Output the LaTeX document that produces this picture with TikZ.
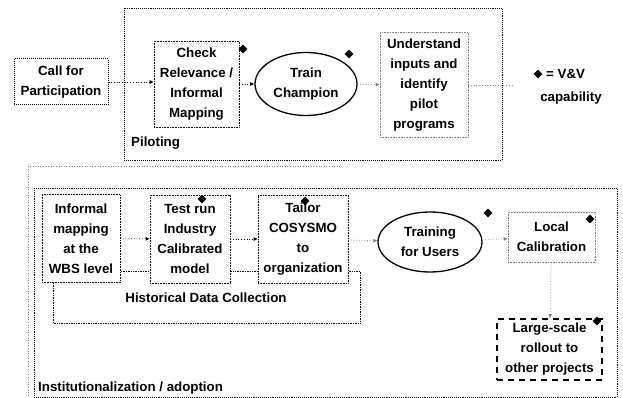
\documentclass[tikz,border=0pt]{standalone}
\usepackage{fontspec}
\setmainfont{Liberation Sans}
\usetikzlibrary{shapes.geometric,arrows.meta}
\begin{document}
\begin{tikzpicture}[x=1pt,y=-1pt,
  txt/.style={font=\fontsize{13.3}{20}\selectfont\bfseries, align=center, inner sep=0pt},
  box/.style={txt, draw, densely dotted, line width=0.6pt, fill=white},
  ell/.style={txt, ellipse, draw, line width=1.3pt, fill=white},
  arr/.style={dotted, line width=0.7pt, -{Latex[length=4pt,width=4pt]}},
  vv/.style={diamond, fill=black, inner sep=0pt, minimum size=9pt},
  frame/.style={densely dotted, line width=0.9pt}]
\useasboundingbox (0,0) rectangle (623,398);
% Piloting
\draw[frame] (124,8) rectangle (502,160);
\node[txt, anchor=west] (pil) at (131,143) {Piloting};
\node[box, line width=1pt, minimum width=94pt, minimum height=46pt] (call) at (61,82) {Call for\\Participation};
\node[box, minimum width=85pt, minimum height=86pt] (check) at (196.5,84) {Check\\Relevance /\\Informal\\Mapping};
\node[ell, minimum width=102pt, minimum height=63pt] (train) at (306,84) {Train\\Champion};
\node[box, draw=gray, minimum width=88pt, minimum height=105pt] (under) at (424,85) {Understand\\inputs and\\identify\\pilot\\programs};
\coordinate (pout) at (514,85);
\draw[arr] (call.east) -- (call.east -| check.west);
\draw[arr] (check) -- (train);
\draw[arr, gray] (train) -- (under);
\draw[dotted, gray, line width=0.7pt] (under) -- (pout);
\node[vv] (d1) at (243,49) {};
\node[vv] (d2) at (349,54) {};
% legend
\node[vv] (dleg) at (538,74) {};
\node[txt, anchor=west] (leg1) at (546,74) {= V\&V};
\node[txt] (leg2) at (571,98) {capability};
% Institutionalization
\draw[dotted, gray, line width=0.6pt] (340,166) -- (28,166) -- (28,396);
\draw[frame] (34,188) rectangle (617,397);
\node[txt, anchor=west] (inst) at (38,388) {Institutionalization / adoption};
\draw[densely dotted, line width=0.7pt] (53,271) rectangle (360,323);
\node[txt] (hist) at (206,298) {Historical Data Collection};
\node[box, minimum width=78pt, minimum height=88pt] (inf) at (81,238.5) {Informal\\mapping\\at the\\WBS level};
\node[box, minimum width=80pt, minimum height=88pt] (test) at (190,239) {Test run\\Industry\\Calibrated\\model};
\node[box, minimum width=90pt, minimum height=88pt] (tail) at (303,239) {Tailor\\COSYSMO\\to\\organization};
\node[ell, minimum width=104pt, minimum height=60pt] (trn) at (430,242) {Training\\for Users};
\node[box, draw=gray, minimum width=87pt, minimum height=50pt] (loc) at (551.5,237) {Local\\Calibration};
\node[txt, draw, dash pattern=on 6pt off 5pt, line width=1.6pt, minimum width=105pt, minimum height=61pt] (roll) at (549.5,349.5) {Large-scale\\rollout to\\other projects};
\draw[arr] (inf) -- (test);
\draw[arr] (test) -- (tail);
\draw[arr, gray] (tail) -- (trn);
\draw[arr, gray] (trn) -- (loc);
\draw[arr, gray] (loc) -- (roll);
\node[vv] (d3) at (202,199) {};
\node[vv] (d4) at (305,201) {};
\node[vv] (d5) at (488,213) {};
\node[vv] (d6) at (590,219) {};
\node[vv] (d7) at (597,321) {};
\end{tikzpicture}
\end{document}
